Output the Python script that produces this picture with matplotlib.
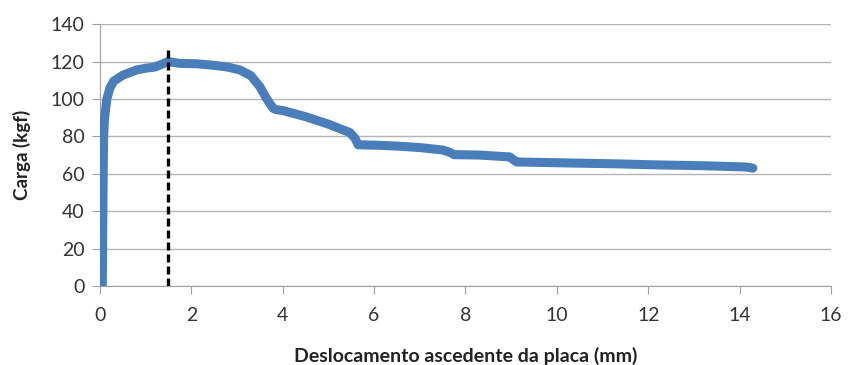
import numpy as np
import matplotlib.pyplot as plt

plt.rcParams['font.family'] = ['Lato', 'DejaVu Sans']

# deslocamento (mm) x carga (kgf)
desloc = [0.05, 0.06, 0.07, 0.08, 0.10, 0.15, 0.22, 0.30, 0.50, 0.80, 1.02, 1.20,
          1.35, 1.49, 1.75, 2.10, 2.48, 2.80, 3.06, 3.30, 3.50, 3.65, 3.79, 3.85,
          4.00, 4.50, 5.00, 5.47, 5.58, 5.65, 6.00, 6.50, 7.00, 7.50, 7.65, 7.75,
          8.30, 8.97, 9.05, 9.12, 10.40, 11.30, 12.25, 13.20, 14.15, 14.29]
carga = [0.0, 30.0, 60.0, 80.0, 90.0, 100.0, 106.0, 109.5, 112.7, 115.5, 116.5, 117.0,
         118.5, 120.0, 119.0, 118.8, 118.0, 117.0, 115.5, 112.5, 106.5, 100.0, 95.0, 94.3,
         93.8, 90.5, 86.5, 82.0, 79.0, 75.5, 75.3, 74.8, 74.0, 72.7, 71.5, 70.2,
         70.0, 69.0, 67.5, 66.3, 65.7, 65.3, 64.7, 64.3, 63.6, 63.0]
x_pico = 1.49
y_pico_top = 127

fig = plt.figure(figsize=(8.51, 3.65), dpi=100)
ax = fig.add_axes([0.1175, 0.2164, 0.859, 0.7176])

ax.plot(desloc, carga, color='#4a7ebb', lw=6.5, solid_capstyle='round',
        solid_joinstyle='round', zorder=3)
ax.plot([x_pico, x_pico], [0, y_pico_top], color='black', lw=2.4,
        ls=(0, (2.4, 1.2)), zorder=4)

ax.set_xlim(0, 16)
ax.set_ylim(0, 140)
ax.set_xticks(np.arange(0, 17, 2))
ax.set_yticks(np.arange(0, 141, 20))
ax.grid(axis='y', color='#b4b4b4', lw=1)
ax.set_axisbelow(True)
for s in ['top', 'right']:
    ax.spines[s].set_visible(False)
for s in ['left', 'bottom']:
    ax.spines[s].set_color('#a0a0a0')
ax.tick_params(axis='both', colors='#a0a0a0', labelcolor='#333333',
               labelsize=14, length=6, direction='out')
ax.tick_params(axis='x', pad=9)
ax.tick_params(axis='y', pad=5)

ax.set_xlabel('Deslocamento ascedente da placa (mm)', fontsize=14,
              fontweight='bold', color='#222222')
ax.set_ylabel('Carga (kgf)', fontsize=13.5, fontweight='bold', color='#222222')
ax.xaxis.set_label_coords(0.5, -0.232)
ax.yaxis.set_label_coords(-0.095, 0.5)

fig.savefig('out.png', dpi=100)
